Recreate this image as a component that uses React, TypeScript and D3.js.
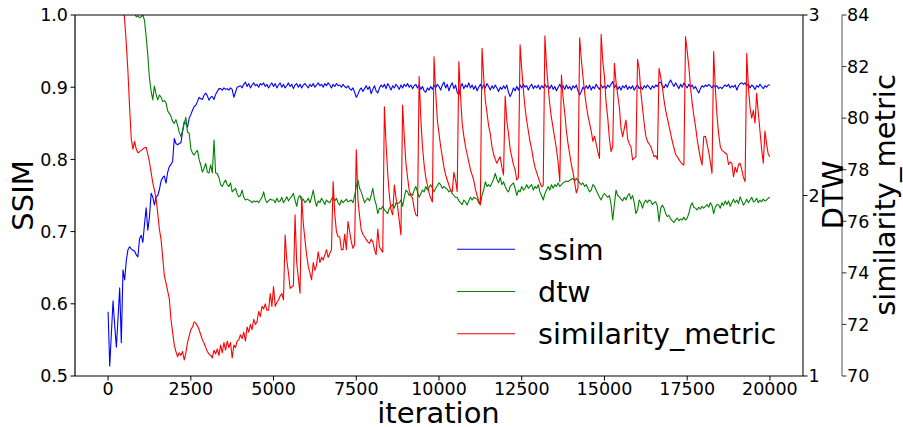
import React from 'react';
import * as d3 from 'd3';

// iteration index of every sample (one sample every 50 iterations)
const iterations: number[] = d3.range(0, 20001, 50);

const ssim: number[] = [
  0.589,0.514,0.560,0.604,0.570,0.540,0.580,0.622,0.546,0.647,0.633,0.660,0.675,0.679,0.676,0.674,0.673,0.668,0.665,0.690,
  0.695,0.685,0.710,0.733,0.702,0.720,0.753,0.748,0.737,0.748,0.750,0.758,0.770,0.775,0.777,0.767,0.782,0.790,0.793,0.797,
  0.829,0.822,0.820,0.822,0.823,0.838,0.852,0.850,0.845,0.857,0.862,0.868,0.873,0.875,0.880,0.886,0.884,0.883,0.889,0.892,
  0.888,0.882,0.886,0.887,0.883,0.890,0.894,0.898,0.898,0.896,0.899,0.897,0.898,0.896,0.899,0.897,0.886,0.893,0.900,0.901,
  0.902,0.899,0.904,0.907,0.901,0.905,0.899,0.903,0.906,0.902,0.904,0.900,0.905,0.903,0.906,0.901,0.904,0.899,0.903,0.906,
  0.901,0.905,0.899,0.903,0.906,0.900,0.904,0.899,0.902,0.906,0.901,0.904,0.898,0.903,0.905,0.900,0.904,0.899,0.903,0.905,
  0.902,0.899,0.904,0.901,0.905,0.900,0.903,0.906,0.902,0.904,0.900,0.905,0.902,0.906,0.903,0.899,0.904,0.901,0.905,0.902,
  0.903,0.900,0.904,0.901,0.899,0.902,0.898,0.896,0.899,0.893,0.886,0.890,0.896,0.899,0.894,0.898,0.902,0.897,0.901,0.891,
  0.897,0.902,0.895,0.892,0.899,0.903,0.900,0.904,0.898,0.905,0.901,0.896,0.902,0.899,0.904,0.901,0.897,0.903,0.899,0.904,
  0.901,0.905,0.900,0.903,0.898,0.902,0.904,0.899,0.903,0.897,0.901,0.895,0.893,0.899,0.896,0.901,0.897,0.903,0.899,0.904,
  0.901,0.896,0.903,0.907,0.899,0.904,0.895,0.902,0.906,0.898,0.903,0.893,0.889,0.900,0.905,0.898,0.903,0.900,0.906,0.899,
  0.903,0.897,0.902,0.895,0.900,0.904,0.898,0.903,0.899,0.905,0.901,0.896,0.902,0.898,0.903,0.899,0.894,0.900,0.897,0.902,
  0.898,0.903,0.893,0.887,0.892,0.899,0.895,0.901,0.896,0.903,0.899,0.904,0.900,0.902,0.896,0.901,0.904,0.898,0.902,0.899,
  0.903,0.897,0.902,0.899,0.904,0.900,0.902,0.898,0.903,0.897,0.901,0.895,0.900,0.904,0.899,0.902,0.897,0.903,0.898,0.901,
  0.896,0.902,0.899,0.903,0.895,0.889,0.894,0.900,0.897,0.902,0.898,0.903,0.896,0.901,0.898,0.904,0.900,0.897,0.903,0.899,
  0.902,0.898,0.903,0.900,0.904,0.908,0.899,0.903,0.897,0.901,0.896,0.902,0.899,0.903,0.897,0.901,0.898,0.902,0.896,0.900,
  0.903,0.898,0.901,0.897,0.902,0.899,0.903,0.900,0.897,0.902,0.899,0.903,0.901,0.906,0.907,0.902,0.899,0.904,0.900,0.906,
  0.910,0.905,0.901,0.906,0.902,0.898,0.904,0.900,0.906,0.902,0.899,0.904,0.900,0.903,0.898,0.901,0.896,0.892,0.898,0.902,
  0.900,0.903,0.901,0.904,0.902,0.899,0.903,0.900,0.902,0.898,0.900,0.898,0.901,0.903,0.901,0.904,0.899,0.902,0.900,0.903,
  0.896,0.902,0.905,0.906,0.904,0.906,0.902,0.904,0.899,0.903,0.901,0.897,0.902,0.900,0.904,0.901,0.898,0.902,0.900,0.903,
  0.903,
];

const dtw: number[] = [
  4.6,4.5,4.3,4.2,4.0,3.9,3.8,3.7,3.6,3.5,3.4,3.3,3.25,3.2,3.15,3.08,3.01,2.99,2.995,2.985,
  2.99,3.0,2.97,2.88,2.78,2.65,2.58,2.53,2.607,2.56,2.53,2.557,2.545,2.52,2.525,2.515,2.47,2.455,2.44,2.41,
  2.40,2.42,2.39,2.35,2.326,2.36,2.40,2.433,2.35,2.345,2.26,2.235,2.224,2.24,2.25,2.20,2.169,2.13,2.15,2.178,
  2.13,2.125,2.17,2.125,2.307,2.125,2.12,2.10,2.06,2.05,2.07,2.086,2.06,2.05,2.07,2.02,2.03,2.04,2.01,1.993,
  2.00,2.03,1.99,1.975,1.98,1.975,1.97,1.96,1.97,1.965,1.97,1.96,1.975,1.99,2.02,1.98,1.96,1.97,1.98,1.975,
  1.975,1.96,1.985,1.965,1.97,1.99,1.96,1.975,1.993,1.97,1.985,1.995,2.012,1.975,1.94,1.99,2.0,1.97,1.98,1.96,
  1.97,1.985,1.96,1.99,2.03,1.975,1.94,1.97,1.96,1.985,1.97,1.95,1.975,1.965,1.96,1.98,1.993,1.97,1.985,1.96,
  1.947,1.975,1.96,1.97,1.98,1.965,1.97,1.975,1.96,2.0,2.05,2.086,2.04,2.02,1.99,1.96,1.975,1.985,1.97,2.0,
  2.04,1.98,1.95,1.90,1.93,1.925,1.94,1.92,1.91,1.90,1.93,1.94,1.95,1.93,1.96,1.955,1.96,1.975,1.94,1.99,
  2.03,2.02,2.0,2.01,2.0,2.03,2.05,2.02,1.99,2.01,2.03,2.02,2.05,2.03,2.045,2.06,2.04,2.02,2.04,2.055,
  2.07,2.06,2.04,2.05,2.04,2.035,2.02,2.03,2.01,2.0,1.99,1.99,1.97,1.96,1.95,1.975,1.965,1.947,1.97,1.99,
  1.975,1.99,1.985,1.98,1.96,1.95,2.0,2.03,2.076,2.05,2.06,2.05,2.07,2.09,2.123,2.09,2.07,2.10,2.06,2.076,
  2.05,2.03,2.02,2.05,2.06,2.07,2.04,2.0,2.03,2.02,2.05,2.03,2.04,2.06,2.04,2.05,2.06,2.03,2.05,2.04,
  2.06,2.02,2.0,1.975,2.01,2.03,2.05,2.03,2.06,2.04,2.06,2.05,2.07,2.05,2.06,2.07,2.075,2.08,2.076,2.085,
  2.09,2.095,2.08,2.095,2.085,2.07,2.06,2.07,2.05,2.06,2.04,2.02,2.03,2.06,2.05,2.03,2.01,1.99,1.975,2.0,
  2.01,2.0,1.99,2.0,1.95,1.864,1.95,2.03,2.0,1.993,1.98,1.97,1.99,1.975,2.0,2.01,1.98,2.0,1.96,1.90,
  1.92,1.975,1.96,1.93,1.96,1.975,1.96,1.975,1.97,1.95,1.96,1.965,1.94,1.855,1.93,1.947,1.93,1.90,1.883,1.89,
  1.87,1.86,1.85,1.865,1.875,1.86,1.87,1.865,1.88,1.864,1.875,1.90,1.94,1.96,1.935,1.93,1.92,1.935,1.925,1.94,
  1.93,1.94,1.95,1.935,1.96,1.945,1.90,1.935,1.95,1.947,1.93,1.96,1.945,1.97,1.95,1.97,1.94,1.96,1.98,1.96,
  1.975,1.955,1.993,1.97,1.947,1.96,1.98,1.96,1.975,1.99,1.965,1.97,1.985,1.96,1.975,1.965,1.98,1.97,1.975,1.985,
  1.99,
];

const similarityMetric: number[] = [
  92.0,91.3,90.6,90.0,89.2,88.4,87.6,86.7,85.8,84.6,83.8,82.9,81.8,80.4,79.2,78.8,79.1,78.8,78.66,78.7,
  78.75,78.8,78.85,78.87,78.6,78.3,77.9,77.5,77.2,76.9,76.3,75.7,75.3,74.6,73.9,73.6,73.3,73.0,72.2,71.7,
  71.2,70.95,70.75,70.9,70.8,70.95,70.62,70.9,71.3,71.55,71.8,71.9,72.1,72.05,71.95,71.8,71.6,71.4,71.28,71.1,
  70.95,70.85,70.8,70.7,71.0,70.85,71.05,70.8,71.2,70.9,71.3,71.0,71.35,71.1,71.3,70.7,71.2,71.1,71.35,71.4,
  71.6,71.45,71.7,71.35,71.9,71.7,72.0,71.8,72.2,72.0,72.1,72.5,72.3,72.7,72.6,72.8,72.55,72.55,73.2,72.7,
  73.47,72.7,72.85,72.95,73.1,73.2,72.95,75.47,74.5,74.0,73.40,73.45,73.5,76.25,74.38,73.8,73.21,76.95,75.9,75.28,
  74.7,74.24,74.0,73.73,74.4,74.1,74.3,74.82,74.4,74.6,74.5,74.7,74.9,74.6,74.75,74.9,77.54,76.3,75.6,75.4,
  75.4,74.9,74.9,75.5,74.9,75.99,75.6,75.2,74.95,75.1,78.77,76.83,76.2,75.66,75.5,75.4,75.3,75.2,75.15,75.3,
  75.2,74.9,74.7,75.7,75.0,74.9,74.8,80.44,79.0,77.86,77.0,76.44,76.25,77.41,76.9,76.57,76.0,75.47,80.51,79.3,
  78.25,77.7,77.2,77.0,76.9,76.5,76.25,76.2,81.61,80.0,78.9,78.2,77.7,77.4,77.1,76.9,76.75,82.38,81.0,79.93,
  79.4,78.9,78.5,78.1,77.8,77.6,77.4,77.2,77.15,77.9,77.6,77.15,82.19,80.9,79.8,79.3,78.9,78.6,78.3,78.0,
  77.8,77.6,77.25,77.0,76.8,76.63,82.71,81.6,80.7,80.2,79.7,79.4,78.9,78.6,78.4,78.25,78.4,78.5,78.1,77.8,
  80.86,79.9,79.4,78.8,78.5,78.2,78.0,77.6,77.7,82.84,81.9,81.1,80.4,79.9,79.5,79.1,78.8,78.4,78.1,77.9,
  77.7,77.5,77.34,77.4,83.19,82.0,81.2,80.5,80.0,79.6,79.2,78.8,78.3,77.54,81.67,80.8,80.2,79.5,79.0,78.6,
  78.2,77.9,77.5,77.1,77.3,83.12,82.3,81.6,81.0,80.5,80.1,79.8,79.5,79.1,79.3,79.0,78.7,78.44,83.25,82.2,
  81.6,80.6,80.0,79.2,78.7,78.9,82.13,81.4,80.9,80.44,79.6,79.28,79.6,79.93,79.2,79.0,78.9,78.38,78.45,78.5,
  82.28,81.9,81.0,80.4,79.8,79.3,79.1,79.0,78.9,78.7,78.5,78.55,78.4,81.93,81.6,81.2,80.7,80.3,80.0,79.7,
  79.4,79.1,78.85,78.6,78.5,78.4,78.3,78.22,78.18,83.16,82.6,82.0,81.2,80.6,80.1,79.7,79.2,78.8,78.45,78.18,
  79.28,79.3,79.0,78.7,78.3,77.86,82.58,81.2,80.1,79.4,78.9,78.75,78.7,78.65,78.6,78.2,78.3,78.25,77.73,78.1,
  77.9,78.2,78.25,78.0,77.7,77.54,82.51,81.2,80.4,80.0,80.3,79.8,80.96,80.2,79.5,78.8,78.25,79.5,79.0,78.6,
  78.5,
];

const xTicks: number[] = [0, 2500, 5000, 7500, 10000, 12500, 15000, 17500, 20000];
const ssimTicks: number[] = [0.5, 0.6, 0.7, 0.8, 0.9, 1.0];
const dtwTicks: number[] = [1, 2, 3];
const simTicks: number[] = [70, 72, 74, 76, 78, 80, 82, 84];
const legendLabels: string[] = ['ssim', 'dtw', 'similarity_metric'];
const colors: string[] = ['#0000ff', '#008000', '#ff0000'];

const W = 903, H = 427;
const L = 75, R = 803, T = 15, B = 376;
const AX3 = 842;
const FONT = 'DejaVu Sans, sans-serif';

export default function App() {
  const x = d3.scaleLinear().domain([-1000, 21000]).range([L, R]);
  const ySsim = d3.scaleLinear().domain([0.5, 1.0]).range([B, T]);
  const yDtw = d3.scaleLinear().domain([1, 3]).range([B, T]);
  const ySim = d3.scaleLinear().domain([70, 84]).range([B, T]);

  const mk = (vals: number[], y: d3.ScaleLinear<number, number>) =>
    d3.line<number>().x((_, i) => x(iterations[i])).y((d) => y(d))(vals) || '';

  const series = [
    { vals: ssim, y: ySsim },
    { vals: dtw, y: yDtw },
    { vals: similarityMetric, y: ySim },
  ];

  const legendY = [249.3, 291.5, 333.7];

  return (
    <svg width={W} height={H} style={{ position: 'absolute', left: 0, top: 0, background: '#fff' }} fontFamily={FONT}>
      <rect x={0} y={0} width={W} height={H} fill="#fff" />
      <defs>
        <clipPath id="plotClip">
          <rect x={L} y={T} width={R - L} height={B - T} />
        </clipPath>
      </defs>

      <g clipPath="url(#plotClip)">
        {series.map((s, k) => (
          <path key={k} d={mk(s.vals, s.y)} fill="none" stroke={colors[k]} strokeWidth={1.1} strokeLinejoin="round" />
        ))}
      </g>

      {/* spines */}
      <line x1={L} x2={R} y1={T} y2={T} stroke="#000" strokeWidth={1.2} />
      <line x1={L} x2={R} y1={B} y2={B} stroke="#000" strokeWidth={1.2} />
      <line x1={L} x2={L} y1={T} y2={B} stroke="#000" strokeWidth={1.2} />
      <line x1={R} x2={R} y1={T} y2={B} stroke="#222" strokeWidth={1.2} />
      <line x1={AX3} x2={AX3} y1={T} y2={B} stroke="#555" strokeWidth={1} />

      {/* x ticks */}
      {xTicks.map((t) => (
        <g key={t}>
          <line x1={x(t)} x2={x(t)} y1={B} y2={B + 4.5} stroke="#000" strokeWidth={1} />
          <text x={x(t)} y={395} textAnchor="middle" fontSize={17.5} fill="#000">{t}</text>
        </g>
      ))}

      {/* left ssim ticks */}
      {ssimTicks.map((t) => (
        <g key={t}>
          <line x1={L - 4.5} x2={L} y1={ySsim(t)} y2={ySsim(t)} stroke="#000" strokeWidth={1} />
          <text x={L - 7} y={ySsim(t)} dy="0.36em" textAnchor="end" fontSize={17.5} fill="#000">{t.toFixed(1)}</text>
        </g>
      ))}

      {/* dtw ticks */}
      {dtwTicks.map((t) => (
        <g key={t}>
          <line x1={R} x2={R + 4.5} y1={yDtw(t)} y2={yDtw(t)} stroke="#000" strokeWidth={1} />
          <text x={R + 5.5} y={yDtw(t)} dy="0.36em" textAnchor="start" fontSize={17.5} fill="#000">{t}</text>
        </g>
      ))}

      {/* similarity ticks */}
      {simTicks.map((t) => (
        <g key={t}>
          <line x1={AX3} x2={AX3 + 4.5} y1={ySim(t)} y2={ySim(t)} stroke="#333" strokeWidth={1} />
          <text x={AX3 + 5} y={ySim(t)} dy="0.36em" textAnchor="start" fontSize={17.5} fill="#000">{t}</text>
        </g>
      ))}

      {/* axis titles */}
      <text x={438.5} y={423} textAnchor="middle" fontSize={29} fill="#000">iteration</text>
      <text transform={`translate(33,195.5) rotate(-90)`} textAnchor="middle" fontSize={29} fill="#000">SSIM</text>
      <text transform={`translate(842.5,195) rotate(-90)`} textAnchor="middle" fontSize={29} fill="#000">DTW</text>
      <text transform={`translate(895,195) rotate(-90)`} textAnchor="middle" fontSize={29} fill="#000">similarity_metric</text>

      {/* legend */}
      {legendLabels.map((lab, k) => (
        <g key={lab}>
          <line x1={457} x2={515} y1={legendY[k]} y2={legendY[k]} stroke={colors[k]} strokeWidth={1.1} />
          <text x={538} y={legendY[k] + 10.7} fontSize={28.6} fill="#000">{lab}</text>
        </g>
      ))}
    </svg>
  );
}
